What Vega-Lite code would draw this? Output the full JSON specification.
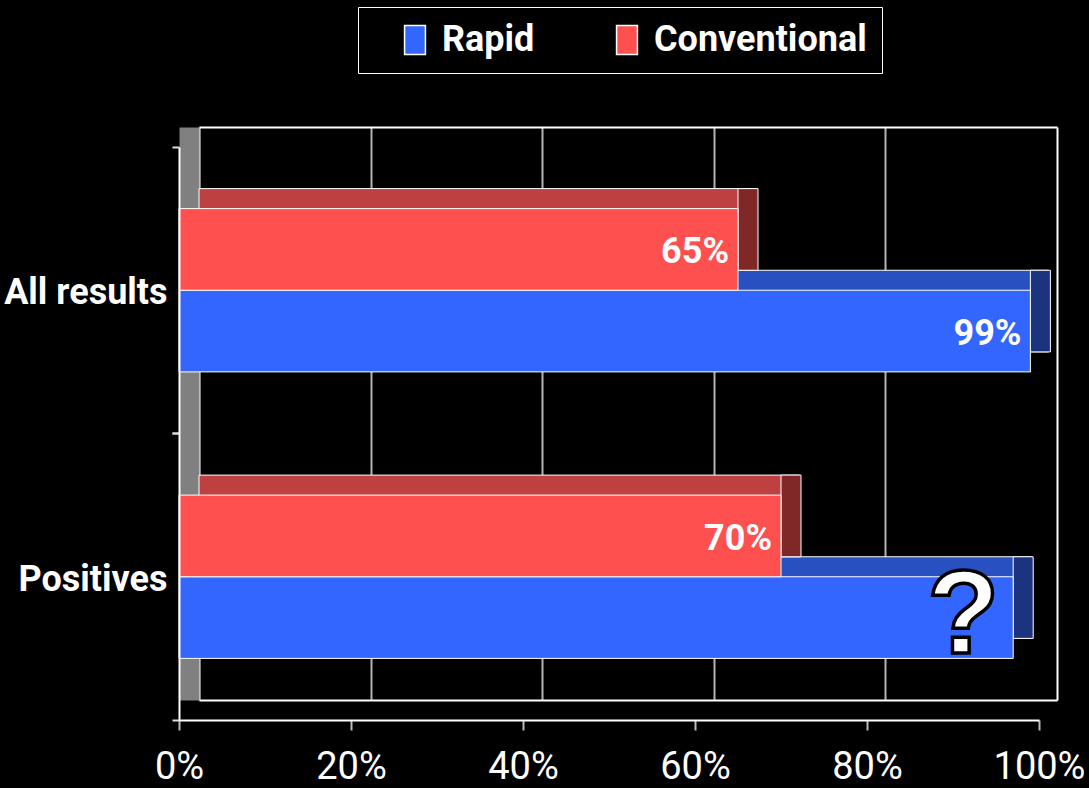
{
  "$schema": "https://vega.github.io/schema/vega-lite/v6.json",
  "width": 878,
  "height": 593,
  "autosize": {"type": "none"},
  "padding": {"left": 179, "top": 127, "right": 32, "bottom": 68},
  "background": "#000000",
  "config": {
    "view": {"stroke": null},
    "font": "Roboto, Liberation Sans, sans-serif"
  },
  "data": {
    "values": [
      {"category": "All results", "series": "Rapid", "value": 0.99, "label": "99%"},
      {"category": "All results", "series": "Conventional", "value": 0.65, "label": "65%"},
      {"category": "Positives", "series": "Rapid", "value": 0.97, "label": "?"},
      {"category": "Positives", "series": "Conventional", "value": 0.70, "label": "70%"}
    ]
  },
  "resolve": {"scale": {"x": "independent", "y": "independent", "yOffset": "independent"}},
  "layer": [
    {
      "mark": {"type": "bar", "stroke": "#ffffff", "strokeWidth": 1},
      "encoding": {
        "x": {"field": "value", "type": "quantitative",
          "scale": {"domain": [0, 1], "range": [20, 878], "nice": false, "zero": true},
          "axis": {"orient": "top", "grid": false, "ticks": false, "labels": false, "domain": true, "domainColor": "#ffffff", "domainWidth": 2, "title": null, "zindex": 0}},
        "y": {"field": "category", "type": "nominal",
          "scale": {"domain": ["All results", "Positives"], "range": [0, 573], "paddingInner": 0.43, "paddingOuter": 0.215},
          "axis": {"orient": "left", "offset": -10, "domainColor": "#808080", "domainWidth": 20, "ticks": false, "labels": false, "grid": false, "title": null, "zindex": 0}},
        "yOffset": {"field": "series", "type": "nominal", "scale": {"domain": ["Conventional", "Rapid"], "paddingInner": 0, "paddingOuter": 0}},
        "fill": {"condition": {"test": "datum.series === 'Rapid'", "value": "#2850C0"}, "value": "#BF4040"}
      }
    },
    {
      "mark": {"type": "bar", "stroke": "#ffffff", "strokeWidth": 1, "x2Offset": 20},
      "encoding": {
        "x": {"field": "value", "type": "quantitative",
          "scale": {"domain": [0, 1], "range": [0, 860], "nice": false, "zero": true}, "axis": null},
        "x2": {"field": "value"},
        "y": {"field": "category", "type": "nominal",
          "scale": {"domain": ["All results", "Positives"], "range": [0, 573], "paddingInner": 0.43, "paddingOuter": 0.215},
          "axis": {"orient": "left", "bandPosition": 1.5, "domain": false, "labels": false, "grid": false, "title": null,
            "tickColor": "#dddddd", "tickSize": 7, "tickWidth": 2, "zindex": 1}},
        "yOffset": {"field": "series", "type": "nominal", "scale": {"domain": ["Conventional", "Rapid"], "paddingInner": 0, "paddingOuter": 0}},
        "fill": {"condition": {"test": "datum.series === 'Rapid'", "value": "#1C3380"}, "value": "#802828"}
      }
    },
    {
      "mark": {"type": "bar", "stroke": "#ffffff", "strokeWidth": 1},
      "encoding": {
        "x": {"field": "value", "type": "quantitative",
          "scale": {"domain": [0, 1], "range": [0, 860], "nice": false, "zero": true},
          "axis": {"orient": "bottom", "format": "%", "values": [0, 0.2, 0.4, 0.6, 0.8, 1], "grid": false, "title": null,
            "domainColor": "#ffffff", "domainWidth": 2, "tickColor": "#bbbbbb", "tickSize": 10, "tickWidth": 2,
            "labelColor": "#ffffff", "labelFontSize": 38, "labelFontWeight": "normal", "labelPadding": 18,
            "labelFlush": false, "labelOverlap": false, "zindex": 1}},
        "y": {"field": "category", "type": "nominal",
          "scale": {"domain": ["All results", "Positives"], "range": [20, 593], "paddingInner": 0.43, "paddingOuter": 0.215},
          "axis": {"orient": "left", "bandPosition": -0.377, "title": null, "grid": false,
            "domainColor": "#ffffff", "domainWidth": 2, "tickColor": "#dddddd", "tickSize": 7, "tickWidth": 2,
            "labelColor": "#ffffff", "labelFontSize": 36, "labelFontWeight": "bold", "labelPadding": 5, "labelOffset": 3, "labelLimit": 400, "zindex": 1}},
        "yOffset": {"field": "series", "type": "nominal", "scale": {"domain": ["Conventional", "Rapid"], "paddingInner": 0, "paddingOuter": 0}},
        "color": {"field": "series", "type": "nominal",
          "scale": {"domain": ["Rapid", "Conventional"], "range": ["#3366FF", "#FF5050"]},
          "legend": {"orient": "none", "legendX": 179, "legendY": -120, "direction": "horizontal", "title": null,
            "strokeColor": "#ffffff", "padding": 15, "symbolOffset": 24, "columnPadding": 50,
            "symbolType": "M-0.72,-1H0.72V1H-0.72Z", "symbolSize": 841, "symbolStrokeColor": "#ffffff", "symbolStrokeWidth": 1.5,
            "labelColor": "#ffffff", "labelFontSize": 36, "labelFontWeight": "bold", "labelOffset": 9, "labelLimit": 400}}
      }
    },
    {
      "transform": [{"filter": "datum.label !== '?'"}],
      "mark": {"type": "text", "align": "right", "baseline": "middle", "dx": -9, "dy": 3, "fontSize": 36, "fontWeight": "bold", "fill": "#ffffff"},
      "encoding": {
        "x": {"field": "value", "type": "quantitative",
          "scale": {"domain": [0, 1], "range": [0, 860], "nice": false, "zero": true}, "axis": null},
        "y": {"field": "category", "type": "nominal",
          "scale": {"domain": ["All results", "Positives"], "range": [20, 593], "paddingInner": 0.43, "paddingOuter": 0.215}, "axis": null},
        "yOffset": {"field": "series", "type": "nominal", "scale": {"type": "point", "domain": ["Conventional", "Rapid"], "padding": 0.5}},
        "text": {"field": "label"}
      }
    },
    {
      "transform": [{"filter": "datum.label === '?'"}],
      "mark": {"type": "text", "align": "right", "baseline": "middle", "dx": -32, "dy": 0, "fontSize": 118, "fontWeight": "bold", "fill": "#ffffff", "stroke": "#000000", "strokeWidth": 3.5, "font": "Liberation Sans, DejaVu Sans, sans-serif"},
      "encoding": {
        "x": {"field": "value", "type": "quantitative",
          "scale": {"domain": [0, 1], "range": [20, 878], "nice": false, "zero": true},
          "axis": {"orient": "bottom", "offset": -20, "values": [0, 0.2, 0.4, 0.6, 0.8, 1], "grid": true,
            "gridColor": {"condition": {"test": "datum.value === 0 || datum.value === 1", "value": "#ffffff"}, "value": "#b4b4b4"},
            "gridWidth": 2, "domainColor": "#ffffff", "domainWidth": 2, "ticks": false, "labels": false, "title": null, "zindex": 0}},
        "y": {"field": "category", "type": "nominal",
          "scale": {"domain": ["All results", "Positives"], "range": [20, 593], "paddingInner": 0.43, "paddingOuter": 0.215}, "axis": null},
        "yOffset": {"field": "series", "type": "nominal", "scale": {"type": "point", "domain": ["Conventional", "Rapid"], "padding": 0.5}},
        "text": {"field": "label"}
      }
    }
  ]
}
